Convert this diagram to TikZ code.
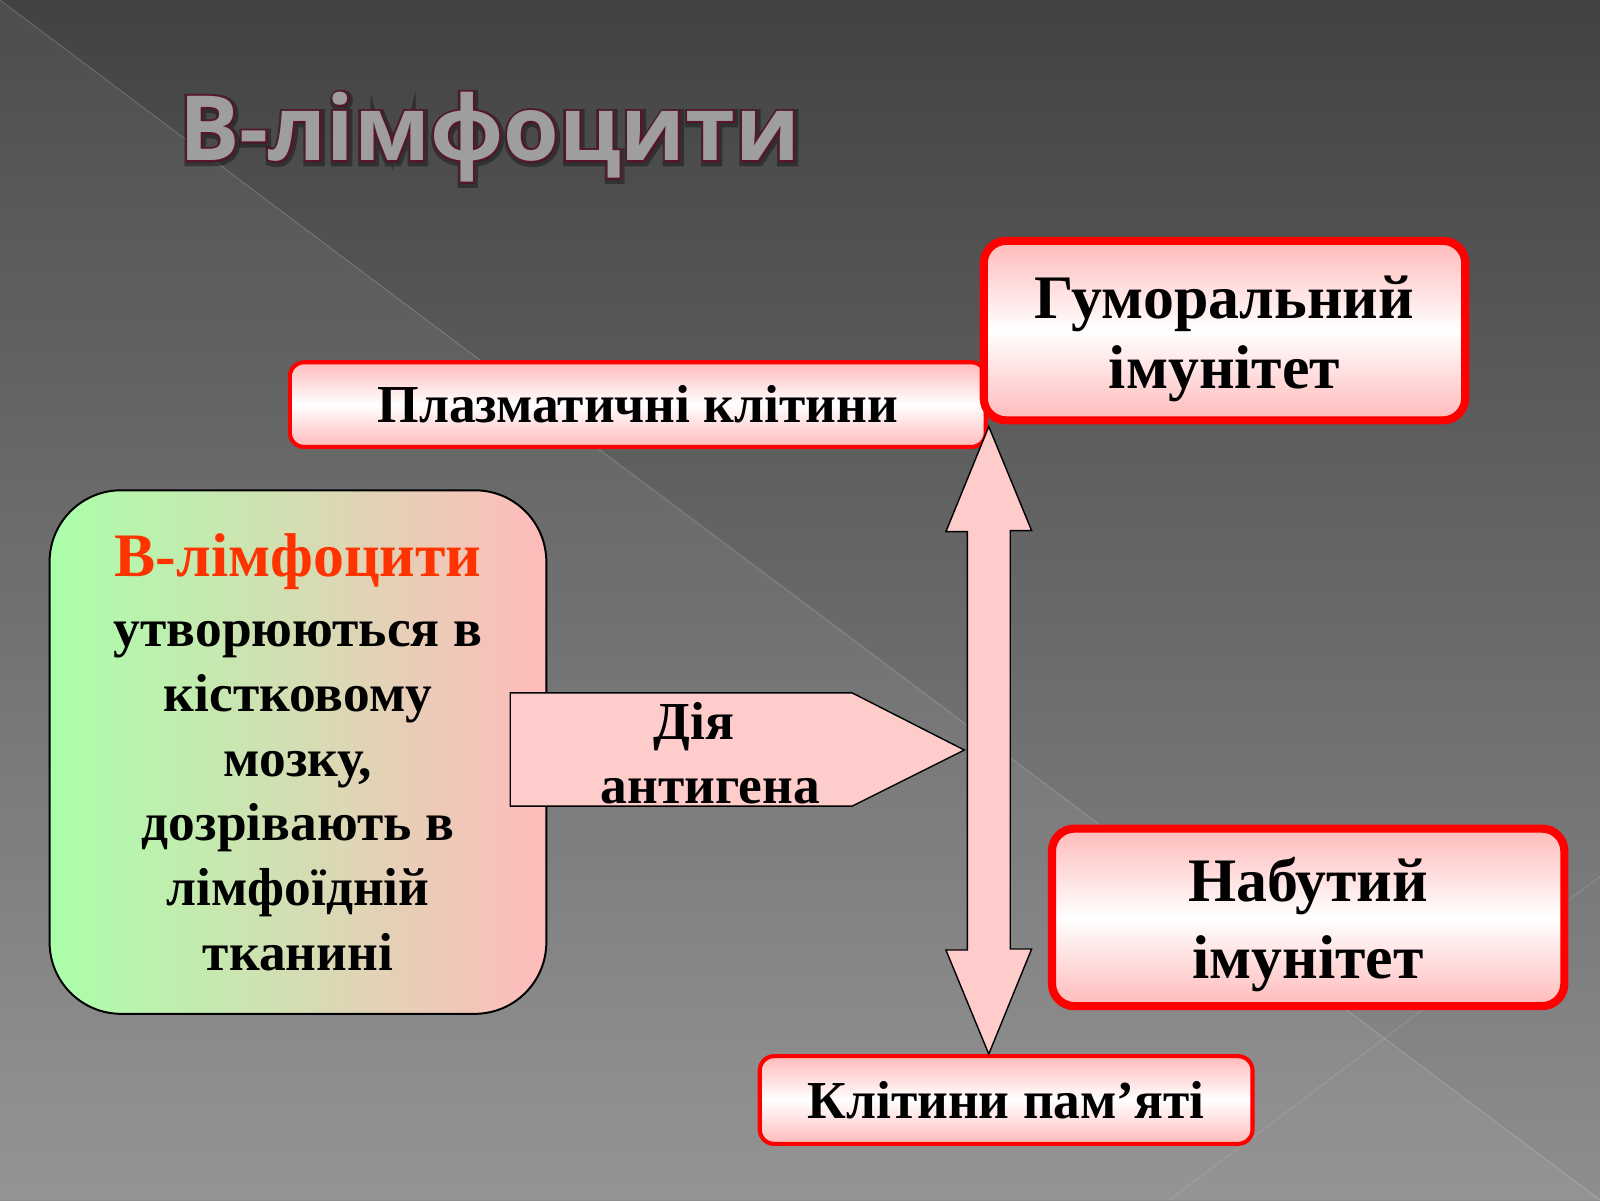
\documentclass[tikz,border=0pt]{standalone}
\usepackage{fontspec}
\setmainfont{Liberation Serif}
\newfontfamily\headfont{Open Sans}
\newfontfamily\headedge{Open Sans}[BoldFeatures={FakeBold=4}]
\newfontfamily\headglow{Open Sans}[BoldFeatures={FakeBold=9}]
\usetikzlibrary{calc}
\definecolor{bgtop}{RGB}{66,66,66}
\definecolor{bgbot}{RGB}{142,142,142}
\definecolor{boxred}{RGB}{255,0,0}
\definecolor{boxpink}{RGB}{255,186,186}
\definecolor{arrowpink}{RGB}{255,204,204}
\definecolor{lymphgreen}{RGB}{170,255,170}
\definecolor{lymphpink}{RGB}{255,187,187}
\definecolor{lymphred}{RGB}{255,51,0}
\definecolor{titlegray}{RGB}{158,158,158}
\definecolor{titleedge}{RGB}{90,20,45}
\newcommand{\fs}[2]{\fontsize{#1}{#2}\selectfont}
\newcommand{\titletext}{В-лімфоцити}
\tikzset{
  redbox/.style={draw=boxred, line width=#1, top color=boxpink, bottom color=boxpink,
    middle color=white, align=center, inner sep=0pt, font=\bfseries},
  boxtext/.style={align=center, inner sep=0pt, font=\bfseries\fs{44}{#1}},
  blockarrow/.style={draw=black, line width=1pt, fill=arrowpink, line join=miter},
  headtext/.style={font=\bfseries\fs{64}{70}, anchor=base, inner sep=0pt}
}

\begin{document}
\begin{tikzpicture}[x=0.02551cm, y=-0.02551cm]
\useasboundingbox (0,0) rectangle (1568,1176);
% background
\fill[top color=bgtop, bottom color=bgbot] (0,0) rectangle (1568,1176);
\fill[white, opacity=0.06] (0,0) -- (1568,1176) -- (0,1176) -- cycle;
\draw[white, opacity=0.2, line width=0.6pt] (0,0) -- (1568,1176);
\draw[white, opacity=0.15, line width=0.6pt] (1568,859) -- (1146,1176);
% title
\node[headtext, text=black, opacity=0.35] (glow) at (481,159) {\headglow\bfseries\titletext};
\node[headtext, text=titleedge] (edge) at (480,157) {\headedge\bfseries\titletext};
\node[headtext, text=titlegray] (title) at (480,157) {\headfont\bfseries\titletext};
% boxes
\node[redbox=2.9pt, rounded corners=0.36cm, minimum width=17.40cm, minimum height=2.117cm,
  font=\bfseries\fs{38}{44}] (plasma) at (625,396.5) {Плазматичні клітини};
\node[draw=black, line width=1.4pt, rounded corners=1.79cm, left color=lymphgreen, right color=lymphpink,
  minimum width=12.42cm, minimum height=13.09cm, align=center, inner sep=0pt,
  font=\bfseries\fs{38}{46}] (lymph) at (292,737)
  {\textcolor{lymphred}{\fs{44}{46}В-лімфоцити}\\[4pt]утворюються в\\кістковому\\мозку,\\дозрівають в\\лімфоїдній\\тканині};
\node[redbox=2.9pt, rounded corners=0.36cm, minimum width=12.32cm, minimum height=2.194cm,
  font=\bfseries\fs{38}{44}] (mem) at (986,1078) {Клітини пам’яті};
\node[redbox=5.8pt, rounded corners=0.56cm, minimum width=12.81cm, minimum height=4.439cm] (acq) at (1282,899) {};
\node[boxtext=55] (acqtext) at ($(acq.center)+(0,7)$) {Набутий\\імунітет};
% arrows
\coordinate (uptip) at (969,418);
\coordinate (downtip) at (uptip |- mem.north);
\coordinate (acttip) at ($(uptip |- lymph.center)+(-24,-2)$);
\draw[blockarrow] (uptip) --++(42,102) --++(-21,0) --++(0,410) --++(21,0) -- (downtip)
  --++(-42,-102) --++(21,0) --++(0,-410) --++(-21,0) -- cycle;
\draw[blockarrow] (acttip) --++(-110,-56) --++(-335,0) --++(0,111) --++(335,0) -- cycle;
\node[align=center, font=\bfseries\fs{38}{46}, inner sep=0pt] (act) at (688,738)
  {Дія\hspace*{0.42cm}\\\hspace*{0.42cm}антигена};
\node[redbox=5.8pt, rounded corners=0.56cm, minimum width=12.04cm, minimum height=4.49cm] (hum) at (1200,324) {};
\node[boxtext=50] (humtext) at ($(hum.center)+(0,8)$) {Гуморальний\\імунітет};
\end{tikzpicture}
\end{document}
